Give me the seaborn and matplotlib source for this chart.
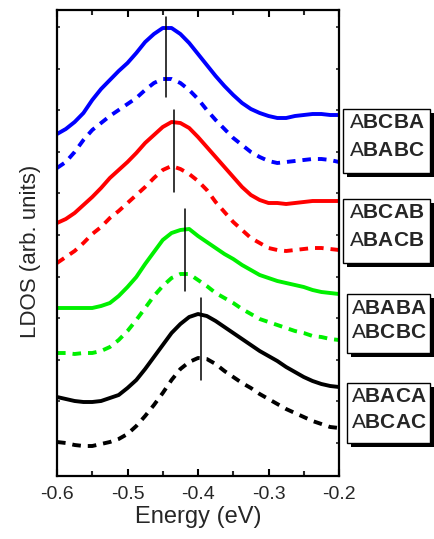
import numpy as np
import pandas as pd
import matplotlib
matplotlib.use("Agg")
import matplotlib.pyplot as plt
import seaborn as sns
from matplotlib.patches import Rectangle
from matplotlib.ticker import MultipleLocator, FixedLocator

# ---------------- data ----------------
energy = [-0.6000, -0.5875, -0.5750, -0.5625, -0.5500, -0.5375, -0.5250, -0.5125,
          -0.5000, -0.4875, -0.4750, -0.4625, -0.4500, -0.4375, -0.4250, -0.4125,
          -0.4000, -0.3875, -0.3750, -0.3625, -0.3500, -0.3375, -0.3250, -0.3125,
          -0.3000, -0.2875, -0.2750, -0.2625, -0.2500, -0.2375, -0.2250, -0.2125,
          -0.2000]

blue_solid = [342, 347, 354, 363, 376, 387, 396, 405, 413, 423, 434, 442, 448, 448, 442, 433,
              422, 411, 400, 390, 381, 373, 367, 363, 360, 358, 358, 360, 361, 362, 362, 361, 361]
blue_dash = [308, 314, 324, 336, 346, 353, 360, 366, 372, 378, 386, 393, 397, 397, 393, 386,
             377, 366, 356, 347, 338, 331, 324, 319, 315, 313, 314, 315, 316, 317, 317, 316, 314]
red_solid = [253, 257, 263, 271, 279, 288, 298, 306, 314, 323, 333, 341, 349, 354, 353, 348,
             339, 329, 319, 309, 299, 289, 281, 276, 273, 273, 272, 273, 274, 275, 275, 275, 275]
red_dash = [213, 219, 225, 233, 242, 249, 258, 265, 273, 281, 289, 298, 306, 310, 307, 302,
            295, 286, 274, 264, 254, 246, 238, 233, 228, 226, 225, 226, 227, 228, 228, 227, 226]
green_solid = [168, 168, 168, 168, 168, 170, 173, 180, 189, 199, 212, 224, 236, 243, 246, 247,
               240, 234, 228, 222, 217, 211, 206, 201, 198, 195, 193, 191, 189, 186, 184, 183, 182]
green_dash = [123, 123, 122, 123, 123, 125, 129, 136, 145, 156, 168, 180, 190, 198, 202, 202,
              196, 190, 183, 178, 173, 167, 162, 157, 154, 151, 148, 145, 143, 140, 139, 137, 136]
black_solid = [79, 77, 75, 74, 74, 75, 78, 81, 88, 96, 107, 119, 131, 143, 152, 159,
               162, 160, 155, 149, 143, 137, 131, 125, 120, 115, 109, 104, 99, 95, 92, 90, 89]
black_dash = [34, 33, 31, 30, 30, 32, 34, 37, 42, 50, 60, 71, 83, 96, 107, 114,
              118, 117, 112, 105, 99, 93, 88, 82, 77, 72, 67, 63, 59, 55, 52, 49, 48]

# peak markers: x position, lower and upper y
peak_x = [-0.4454, -0.4336, -0.4184, -0.3962]
peak_lo = [379, 284, 185, 96]
peak_hi = [459, 366, 267, 178]

xtick_vals = [-0.6, -0.5, -0.4, -0.3, -0.2]
xtick_labels = ["-0.6", "-0.5", "-0.4", "-0.3", "-0.2"]

box_labels = [("A$\\mathbf{BCBA}$", "A$\\mathbf{BABC}$"),
              ("A$\\mathbf{BCAB}$", "A$\\mathbf{BACB}$"),
              ("A$\\mathbf{BABA}$", "A$\\mathbf{BCBC}$"),
              ("A$\\mathbf{BACA}$", "A$\\mathbf{BCAC}$")]

series = [
    (blue_solid, "#0000ff", "-"), (blue_dash, "#0000ff", "--"),
    (red_solid, "#ff0000", "-"), (red_dash, "#ff0000", "--"),
    (green_solid, "#00f000", "-"), (green_dash, "#00f000", "--"),
    (black_solid, "#000000", "-"), (black_dash, "#000000", "--"),
]

# ---------------- style ----------------
sns.set_style("ticks")
plt.rcParams["font.family"] = ["Liberation Sans", "DejaVu Sans"]
plt.rcParams["axes.unicode_minus"] = False
plt.rcParams["mathtext.fontset"] = "custom"
plt.rcParams["mathtext.rm"] = "Liberation Sans"
plt.rcParams["mathtext.bf"] = "Liberation Sans:bold"
plt.rcParams["lines.scale_dashes"] = False

W, H = 434, 539
fig = plt.figure(figsize=(W / 100, H / 100), dpi=100)
ax = fig.add_axes([57 / W, 63 / H, 282 / W, 466 / H])

for vals, col, ls in series:
    df = pd.DataFrame({"E": energy, "v": vals})
    sns.lineplot(data=df, x="E", y="v", ax=ax, color=col, lw=2.8,
                 estimator=None, sort=False)
    l = ax.lines[-1]
    if ls == "--":
        l.set_dashes((6.2, 5.0))
        l.set_dash_capstyle("butt")
    l.set_solid_joinstyle("round")

for x, lo, hi in zip(peak_x, peak_lo, peak_hi):
    ax.plot([x, x], [lo, hi], color="black", lw=1.1)

ax.set_xlim(-0.6, -0.2)
ax.set_ylim(0, 466)
ax.xaxis.set_major_locator(FixedLocator(xtick_vals))
ax.set_xticklabels(xtick_labels)
ax.xaxis.set_minor_locator(MultipleLocator(0.05))
ax.yaxis.set_major_locator(FixedLocator(list(np.arange(33, 466, 41.6))))
ax.set_yticklabels([])
ax.tick_params(axis="x", which="major", direction="in", length=5, width=1.5,
               top=True, labelsize=14, pad=7, color="black")
ax.tick_params(axis="x", which="minor", direction="in", length=3.5, width=1.5,
               top=True)
ax.tick_params(axis="y", which="major", direction="in", length=2.5, width=1.2,
               right=True, left=True)
for s in ax.spines.values():
    s.set_linewidth(1.6)
    s.set_color("black")

ax.set_xlabel("Energy (eV)", fontsize=17, labelpad=2)
ax.set_ylabel("")
fig.text(31 / W, 1 - 251 / H, "LDOS (arb. units)", rotation=90, fontsize=16,
         ha="center", va="center")


def px(x, y):
    return x / W, 1 - y / H


boxes = [(343, 109, 430, 173, 123, 150),
         (343, 199, 430, 263, 213, 240),
         (347, 294, 430, 353, 308, 333),
         (347, 383, 430, 443, 397, 422)]

for (l, t, r, b, y1, y2), (t1, t2) in zip(boxes, box_labels):
    sx, sy = px(l + 4, b + 4)
    fig.patches.append(Rectangle((sx, sy), (r - l) / W, (b - t) / H,
                                 transform=fig.transFigure, facecolor="black",
                                 edgecolor="black", lw=0, zorder=5))
    bx, by = px(l, b)
    fig.patches.append(Rectangle((bx, by), (r - l) / W, (b - t) / H,
                                 transform=fig.transFigure, facecolor="white",
                                 edgecolor="black", lw=1.0, zorder=6))
    cx = (l + r) / 2 / W
    for yy, tx in ((y1, t1), (y2, t2)):
        fig.text(cx, 1 - yy / H, tx, fontsize=15, ha="center", va="center",
                 zorder=7)

fig.savefig("out.png", dpi=100)
